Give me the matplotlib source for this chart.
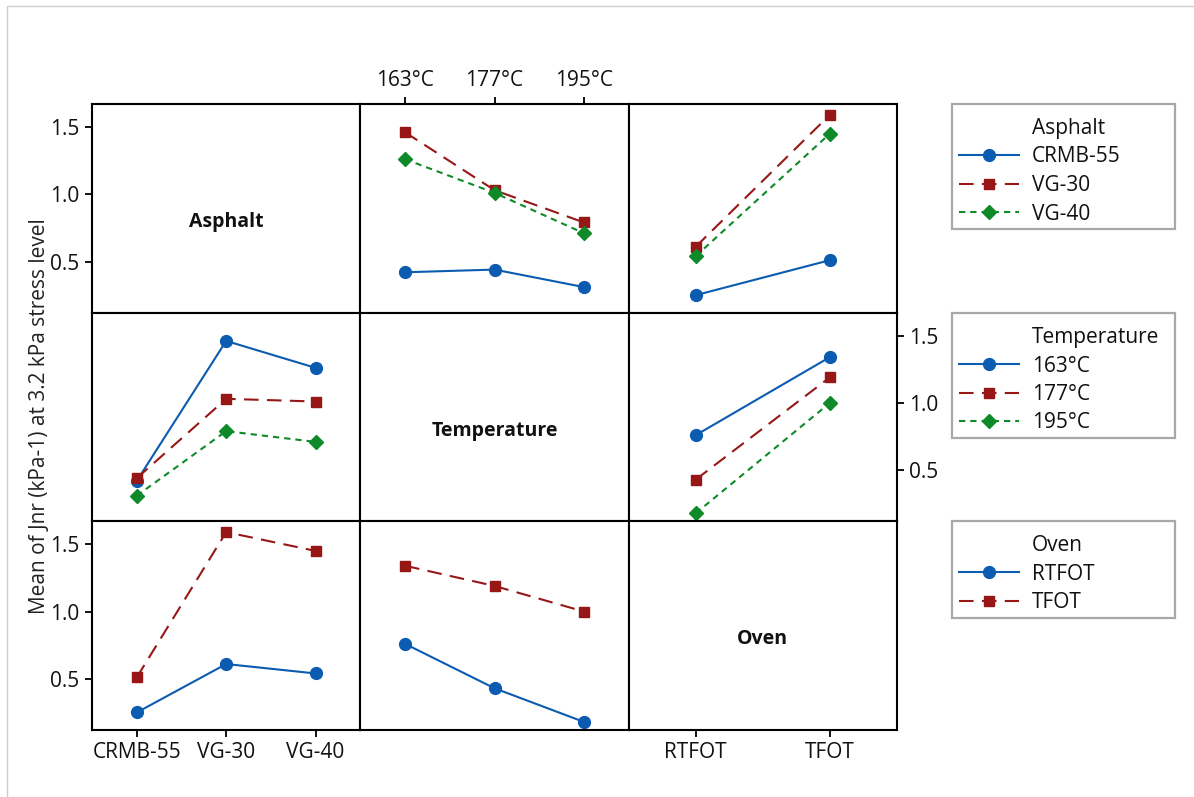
import numpy as np
import matplotlib
matplotlib.use("Agg")
import matplotlib.pyplot as plt
from matplotlib.lines import Line2D
from matplotlib.patches import Rectangle

plt.rcParams["font.family"] = ["Open Sans", "DejaVu Sans"]

# data -------------------------------------
factor_names = ["Asphalt", "Temperature", "Oven"]
asphalt_levels = ["CRMB-55", "VG-30", "VG-40"]
temp_levels = ["163°C", "177°C", "195°C"]
oven_levels = ["RTFOT", "TFOT"]

# mean Jnr, rows = asphalt, cols = temperature
asphalt_temp = [
    [0.42, 0.44, 0.31],
    [1.46, 1.03, 0.79],
    [1.26, 1.01, 0.71],
]
# rows = asphalt, cols = oven
asphalt_oven = [
    [0.25, 0.51],
    [0.61, 1.59],
    [0.54, 1.45],
]
# rows = temperature, cols = oven
temp_oven = [
    [0.76, 1.34],
    [0.43, 1.19],
    [0.18, 1.00],
]

levels = [asphalt_levels, temp_levels, oven_levels]
tables = {
    (0, 1): np.array(asphalt_temp),
    (0, 2): np.array(asphalt_oven),
    (1, 2): np.array(temp_oven),
}
tables[(1, 0)] = tables[(0, 1)].T
tables[(2, 0)] = tables[(0, 2)].T
tables[(2, 1)] = tables[(1, 2)].T

colors = ["#0B5BB0", "#971717", "#0E8A28"]
markers = ["o", "s", "D"]
msizes = [8.5, 7.5, 7.5]
dashes = [None, (7, 4), (3, 2.4)]
lw = 1.5


def line_style(k):
    kw = dict(color=colors[k], marker=markers[k], markersize=msizes[k], linewidth=lw)
    if dashes[k] is None:
        kw["linestyle"] = "-"
    else:
        kw["linestyle"] = (0, dashes[k])
    return kw


W, H = 1194, 797
fig = plt.figure(figsize=(W / 100, H / 100), dpi=100)
gs = fig.add_gridspec(3, 3, left=92 / W, right=897 / W, top=1 - 104 / H, bottom=1 - 730 / H,
                      hspace=0, wspace=0)

tick_fs = 15
for i in range(3):
    for j in range(3):
        ax = fig.add_subplot(gs[i, j])
        n = len(levels[j])
        ax.set_xlim(-0.5, n - 0.5)
        ax.set_ylim(0.12, 1.67)
        for s in ax.spines.values():
            s.set_linewidth(1.5)
            s.set_color("black")
        ax.tick_params(which="both", left=False, right=False, top=False, bottom=False,
                       labelleft=False, labelright=False, labeltop=False, labelbottom=False,
                       length=5, width=1.3, labelsize=tick_fs, pad=4, labelcolor="#111111")
        ax.set_xticks(range(n))
        ax.set_xticklabels(levels[j])
        ax.set_yticks([0.5, 1.0, 1.5])
        ax.set_yticklabels(["0.5", "1.0", "1.5"])

        if i == j:
            ax.text(0.5, 0.435, factor_names[i], transform=ax.transAxes, ha="center", va="center",
                    fontsize=14, fontweight="bold", color="#111111")
        else:
            data = tables[(i, j)]
            x = np.arange(n)
            for k in range(data.shape[0]):
                ax.plot(x, data[k], **line_style(k))

        # axis ticks like the Minitab matrix
        if j == 0 and i in (0, 2):
            ax.tick_params(left=True, labelleft=True)
        if j == 2 and i == 1:
            ax.tick_params(right=True, labelright=True)
        if i == 0 and j == 1:
            ax.tick_params(top=True, labeltop=True)
        if i == 2 and j in (0, 2):
            ax.tick_params(bottom=True, labelbottom=True)

fig.text(40 / W, 1 - 416 / H, "Mean of Jnr (kPa-1) at 3.2 kPa stress level", rotation=90,
         ha="center", va="center", fontsize=15, color="#222222")

# legends -------------------------------------
box_x0, box_x1 = 952, 1175
boxes = [(104, 229), (313, 438), (521, 618)]
for f, (y0, y1) in enumerate(boxes):
    fig.patches.append(Rectangle((box_x0 / W, 1 - y1 / H), (box_x1 - box_x0) / W, (y1 - y0) / H,
                                 transform=fig.transFigure, fill=False, edgecolor="#A8A8A8",
                                 linewidth=1.6))
    handles = [Line2D([], [], linestyle="none")]
    labels = [factor_names[f]]
    for k, name in enumerate(levels[f]):
        handles.append(Line2D([], [], **line_style(k)))
        labels.append(name)
    fig.legend(handles, labels, loc="upper left", bbox_to_anchor=(959 / W, 1 - (y0 + 14) / H),
               frameon=False, fontsize=tick_fs, borderpad=0, borderaxespad=0,
               handlelength=2.9, handletextpad=0.6, labelspacing=0.36,
               labelcolor="#111111")

# outer frame
fig.patches.append(Rectangle((7 / W, -0.5), 2, 1.5 - 6 / H, transform=fig.transFigure,
                             fill=False, edgecolor="#CCCCCC", linewidth=1))

fig.savefig("out.png", dpi=100)
